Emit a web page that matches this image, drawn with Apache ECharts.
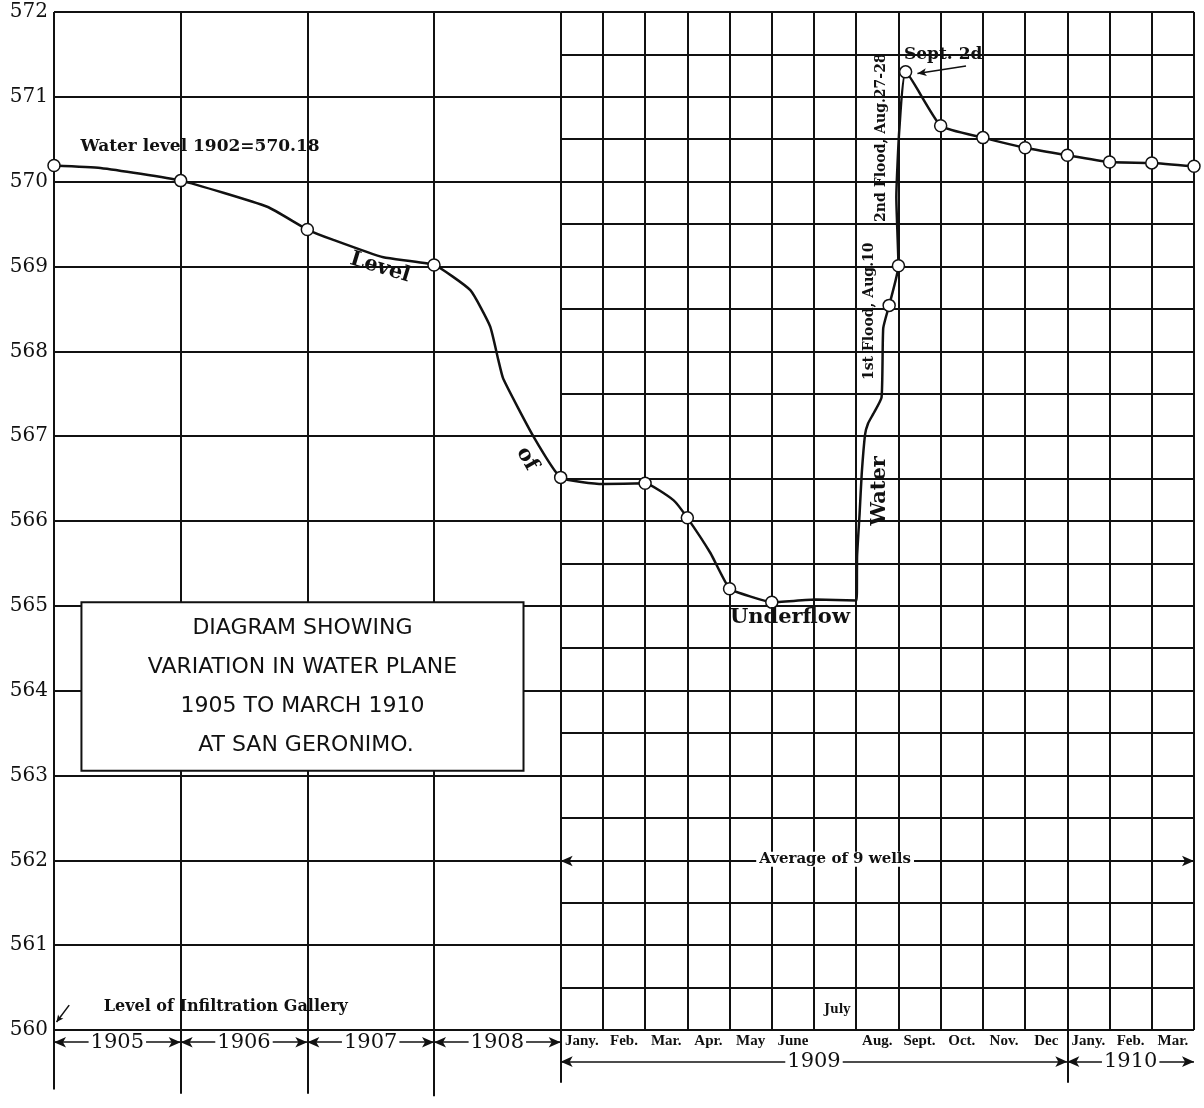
<!DOCTYPE html>
<html>
<head>
<meta charset="utf-8">
<title>Variation in water plane, San Geronimo</title>
<script src="https://cdn.jsdelivr.net/npm/echarts@6/dist/echarts.min.js"></script>
<style>
  html, body { margin: 0; padding: 0; background: #fff; }
  #chart { width: 1204px; height: 1108px; }
</style>
</head>
<body>
<div id="chart"></div>
<script>
// x runs in "cells": 1905-1908 are 3 cells per year, from Jan 1909 one cell per month
const levelX = [0, 1.1, 3, 5.05, 6, 6.6, 7.8, 9, 9.86, 10.33, 10.52, 10.64, 11.35, 12, 13, 14, 14.67, 15, 15.55, 16, 16.54, 17, 18.04,
  19.01, 19.02, 19.08, 19.13, 19.21, 19.28, 19.40, 19.60, 19.64, 19.78, 20.0, 19.95, 20.02, 20.17, 21, 22, 23, 24, 25, 26, 27];
const levelY = [570.18, 570.15, 570.0, 569.69, 569.42, 569.30, 569.09, 569.0, 568.70, 568.27, 567.88, 567.65, 566.97, 566.48, 566.40, 566.41, 566.21, 566.0, 565.58, 565.16, 565.06, 565.0, 565.03,
  565.02, 565.54, 566.05, 566.52, 566.99, 567.12, 567.23, 567.43, 568.25, 568.52, 568.99, 569.8, 570.6, 571.29, 570.65, 570.51, 570.39, 570.30, 570.22, 570.21, 570.17];
// 1 = observation (circle), 0 = bend of the drawn curve
const levelMarked = [1, 0, 1, 0, 1, 0, 0, 1, 0, 0, 0, 0, 0, 1, 0, 1, 0, 1, 0, 1, 0, 1, 0,
  0, 0, 0, 0, 0, 0, 0, 0, 0, 1, 1, 0, 0, 1, 1, 1, 1, 1, 1, 1, 1];

const yearNames = ['1905', '1906', '1907', '1908', '1909', '1910'];
const yearStart = [0, 3, 6, 9, 12, 24];
const yearEnd = [3, 6, 9, 12, 24, 27];
const monthLabels = ['Jany.', 'Feb.', 'Mar.', 'Apr.', 'May', 'June', 'July', 'Aug.', 'Sept.', 'Oct.', 'Nov.', 'Dec', 'Jany.', 'Feb.', 'Mar.'];
const titleLines = ['DIAGRAM SHOWING', 'VARIATION IN WATER PLANE', '1905 TO MARCH 1910', ' AT SAN GERONIMO.'];

// text written on the sheet, anchored in chart units
const notes = [
  { text: 'Water level 1902=570.18', at: [3.46, 570.40], rotate: 0, size: 17 },
  { text: 'Level', at: [7.72, 568.97], rotate: -17, size: 21 },
  { text: 'of', at: [11.2, 566.70], rotate: -60, size: 21 },
  { text: 'Underflow', at: [17.43, 564.82], rotate: 0, size: 21 },
  { text: 'Water', at: [19.56, 566.32], rotate: 90, size: 21 },
  { text: '1st Flood, Aug.10', at: [19.30, 568.45], rotate: 90, size: 14 },
  { text: '2nd Flood, Aug.27-28', at: [19.59, 570.51], rotate: 90, size: 14 },
  { text: 'Sept. 2d', at: [21.06, 571.50], rotate: 0, size: 17 },
  { text: 'July', at: [18.55, 560.16], rotate: 0, size: 12 },
  { text: 'Level of Infiltration Gallery', at: [4.07, 560.20], rotate: 0, size: 16 },
  { text: 'Average of 9 wells', at: [18.5, 561.95], rotate: 0, size: 15 }
];

const PX = 84.83;              // pixels per foot
const TOP = 12;
const LEFT = 54;
const RIGHT_EDGE = 1194;
const CELL = (RIGHT_EDGE - LEFT) / 27;
const SPLIT = LEFT + 12 * CELL;
const INK = '#111';
const SERIF = 'DejaVu Serif';

const gridLine = { show: true, lineStyle: { color: INK, width: 2 } };

// drop lines of the year / month borders below the 560 line
const drops = [[0, 559.22], [3, 559.17], [6, 559.17], [9, 559.14], [12, 559.3], [24, 559.3], [27, 558.9]];
const markLines = drops.map(d => [
  { coord: [d[0], 560], symbol: 'none' },
  { coord: [d[0], d[1]], symbol: 'none' }
]);
yearNames.forEach((y, i) => {
  const yy = i < 4 ? 559.78 : 559.55;
  markLines.push([
    { coord: [yearStart[i], yy], symbol: 'arrow', symbolSize: [8, 12], lineStyle: { width: 1.5 } },
    { coord: [yearEnd[i], yy], symbol: 'arrow', symbolSize: [8, 12] }
  ]);
});
markLines.push([
  { coord: [12, 561.93], symbol: 'arrow', symbolSize: [8, 12], lineStyle: { width: 1.5 } },
  { coord: [27, 561.93], symbol: 'arrow', symbolSize: [8, 12] }
]);
markLines.push([
  { coord: [21.6, 571.36], symbol: 'none', lineStyle: { width: 1.5, curveness: -0.35 } },
  { coord: [20.45, 571.27], symbol: 'arrow', symbolSize: [6, 9], lineStyle: { width: 1.5, curveness: -0.35 } }
]);
markLines.push([
  { coord: [0.36, 560.22], symbol: 'none', lineStyle: { width: 1.5 } },
  { coord: [0.06, 560.02], symbol: 'arrow', symbolSize: [5, 7] }
]);

const noteData = notes.map(n => ({
  value: n.at,
  label: {
    show: true, position: 'inside', formatter: n.text, rotate: n.rotate,
    fontSize: n.size, fontFamily: SERIF, fontWeight: 'bold', color: INK,
    backgroundColor: n.text.indexOf('Average') === 0 ? '#fff' : 'transparent', padding: [0, 3]
  }
}));
const yearData = yearNames.map((y, i) => ({
  value: [(yearStart[i] + yearEnd[i]) / 2, i < 4 ? 559.78 : 559.55],
  label: {
    show: true, position: 'inside', formatter: y, fontSize: 21, fontFamily: SERIF,
    color: INK, backgroundColor: '#fff', padding: [0, 2]
  }
}));

const chart = echarts.init(document.getElementById('chart'), null, { renderer: 'canvas' });
const option = {
  animation: false,
  backgroundColor: '#fff',
  grid: [
    { left: LEFT, top: TOP, width: RIGHT_EDGE - LEFT, height: 13 * PX },
    { left: LEFT, top: TOP, width: 12 * CELL, height: 12 * PX },
    { left: SPLIT, top: TOP, width: RIGHT_EDGE - SPLIT, height: 12 * PX }
  ],
  xAxis: [
    { gridIndex: 0, type: 'value', min: 0, max: 27, show: false },
    { gridIndex: 1, type: 'value', min: 0, max: 12, interval: 3, axisLine: { show: false }, axisTick: { show: false }, axisLabel: { show: false }, splitLine: gridLine },
    { gridIndex: 2, type: 'value', position: 'bottom', min: 12, max: 27, interval: 1, axisLine: { show: false }, axisTick: { show: false }, axisLabel: { show: false }, splitLine: gridLine },
    {
      gridIndex: 2, type: 'category', position: 'bottom', data: monthLabels, boundaryGap: true,
      axisLine: { show: false }, axisTick: { show: false }, splitLine: { show: false },
      axisLabel: {
        interval: 0, margin: 4, fontFamily: 'Liberation Serif', fontWeight: 'bold', fontSize: 15, color: INK,
        formatter: v => (v === 'July' ? '' : v)
      }
    }
  ],
  yAxis: [
    { gridIndex: 0, type: 'value', min: 559, max: 572, show: false },
    {
      gridIndex: 1, type: 'value', min: 560, max: 572, interval: 1,
      axisLine: { show: false }, axisTick: { show: false }, splitLine: gridLine,
      axisLabel: { margin: 6, fontFamily: SERIF, fontSize: 20, color: INK }
    },
    { gridIndex: 2, type: 'value', min: 560, max: 572, interval: 0.5, axisLine: { show: false }, axisTick: { show: false }, axisLabel: { show: false }, splitLine: gridLine }
  ],
  series: [
    {
      name: 'frame', type: 'line', xAxisIndex: 0, yAxisIndex: 0, data: [], silent: true, z: 3,
      markLine: {
        silent: true, animation: false, label: { show: false },
        lineStyle: { color: INK, width: 2, type: 'solid' },
        data: markLines
      },
      markArea: {
        silent: true,
        itemStyle: { color: '#fff', borderColor: INK, borderWidth: 2 },
        label: {
          show: true, position: 'inside', formatter: titleLines.join('\n'),
          fontFamily: 'DejaVu Sans', fontSize: 22, lineHeight: 39, color: INK
        },
        data: [[{ coord: [0.65, 565] }, { coord: [11.12, 563] }]]
      }
    },
    {
      name: 'Water level', type: 'line', xAxisIndex: 0, yAxisIndex: 0, z: 4,
      smooth: 0.15, showAllSymbol: true, symbolSize: 12,
      lineStyle: { color: INK, width: 2.5 },
      itemStyle: { color: '#fff', borderColor: INK, borderWidth: 1.5 },
      data: levelX.map((x, i) => ({ value: [x, levelY[i]], symbol: levelMarked[i] ? 'circle' : 'none' }))
    },
    {
      name: 'notes', type: 'scatter', xAxisIndex: 0, yAxisIndex: 0, symbolSize: 0, silent: true, z: 6,
      itemStyle: { opacity: 1 },
      data: noteData.concat(yearData)
    }
  ]
};
option && chart.setOption(option);
</script>
</body>
</html>
